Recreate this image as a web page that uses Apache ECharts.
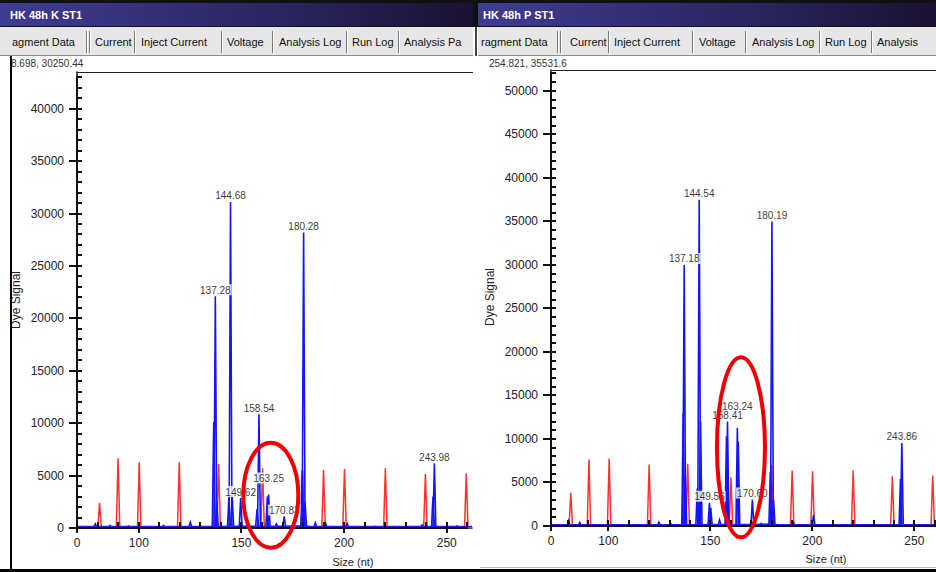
<!DOCTYPE html>
<html>
<head>
<meta charset="utf-8">
<script src="https://cdn.jsdelivr.net/npm/echarts@6/dist/echarts.min.js"></script>
<style>
  html, body { margin: 0; padding: 0; background: #fff; }
  #c { width: 936px; height: 572px; }
</style>
</head>
<body>
<div id="c"></div>
<script>
// ---------- HK 48h K ST1 ----------
// called (sized) blue peaks: [size nt, signal]
const kCalled = [[137.28, 22100], [144.68, 31100], [149.62, 2860], [158.54, 10850],
                 [163.25, 3200], [170.83, 1100], [180.28, 28200], [243.98, 6170]];
// uncalled blue peaks, shoulders and small bumps
const kBlueMinor = [[136.5, 10100], [138.0, 2500], [143.9, 3000], [145.5, 3000], [157.6, 1800],
                    [162.6, 3000], [179.6, 5500], [181.0, 2500], [243.3, 3000], [78.8, 400],
                    [86.0, 250], [95.0, 200], [112.0, 250], [125.1, 550], [130.0, 250],
                    [153.0, 500], [167.0, 400], [186.0, 500], [191.0, 450], [201.5, 430],
                    [215.0, 150], [230.0, 150], [238.0, 300], [255.0, 200]];
// size standard (red)
const kRed = [[80.9, 2400], [89.9, 6650], [100.2, 6270], [119.7, 6270], [138.9, 6100], [160.3, 5700],
              [179.8, 5500], [190.0, 5530], [200.2, 5630], [220.1, 5690], [239.6, 5150], [259.5, 5220]];
const kGreen = [[69.9, 60], [120, 80], [150, 200], [165, 180], [180, 250], [186, 90], [262.3, 60]];
const kBlueBase = [[69.9, 150], [262.3, 150]];
const kSignalTicks = [0, 5000, 10000, 15000, 20000, 25000, 30000, 35000, 40000];

// ---------- HK 48h P ST1 ----------
const pCalled = [[137.18, 30000], [144.54, 37500], [149.56, 2660], [158.41, 12000],
                 [163.24, 11250], [170.60, 3050], [180.19, 35000], [243.86, 9550]];
const pBlueMinor = [[136.7, 13000], [137.7, 6000], [143.6, 4300], [145.2, 12000], [150.2, 2100],
                    [157.9, 10300], [163.7, 9700], [179.4, 6200], [181.0, 3000], [243.2, 5400],
                    [80.5, 600], [86.0, 400], [124.8, 440], [130.5, 300], [154.5, 700],
                    [175.0, 300], [190.7, 400], [200.6, 1250]];
const pRed = [[81.6, 3810], [90.5, 7640], [100.4, 7720], [120.0, 7070], [138.9, 7150], [160.1, 5610],
              [180.0, 7000], [190.1, 6380], [200.1, 6300], [220.0, 6380], [239.2, 5720], [259.0, 5800]];
const pGreen = [[71.9, 60], [120, 80], [150, 200], [165, 200], [180, 280], [186, 90], [260.6, 60]];
const pBlueBase = [[71.9, 150], [260.6, 150]];
const pSignalTicks = [0, 5000, 10000, 15000, 20000, 25000, 30000, 35000, 40000, 45000, 50000];

// shared size axis
const sizeTicks = [100, 150, 200, 250];
const ladderMarks = [80, 90, 100, 110, 120, 130, 140, 150, 160, 170, 180, 190, 200, 210, 220, 230, 240, 250, 260];

// axis extents
const kRange = { xMin: 69.9, xMax: 262.3, yMax: 43500 };
const pRange = { xMin: 71.9, xMax: 260.6, yMax: 52400 };

const FONT = '"Liberation Sans", Arial, sans-serif';
const chart = echarts.init(document.getElementById('c'), null, { renderer: 'svg' });

function peakRenderer(base, half, width) {
  return function (params, api) {
    const s = api.value(0), h = api.value(1);
    const pts = [api.coord([s - half, base]), api.coord([s, h]), api.coord([s + half, base])];
    return {
      type: 'polyline',
      shape: { points: pts },
      style: { stroke: api.visual('color'), lineWidth: width, fill: 'none' }
    };
  };
}

function axesFor(grid, range, signalTicks) {
  return {
    x: {
      gridIndex: grid, type: 'value', position: 'bottom', min: range.xMin, max: range.xMax,
      axisLine: { show: true, onZero: false, lineStyle: { color: '#111', width: 1.5 } },
      axisTick: { show: false },
      axisLabel: {
        show: true, customValues: [range.xMin].concat(sizeTicks), showMinLabel: true, showMaxLabel: true,
        formatter: v => (v === range.xMin ? '0' : String(v)),
        fontFamily: FONT, fontSize: 12, color: '#222', margin: 9
      },
      splitLine: { show: false }
    },
    y: {
      gridIndex: grid, type: 'value', position: 'left', min: 0, max: range.yMax,
      axisLine: { show: true, onZero: false, lineStyle: { color: '#111', width: 1.5 } },
      axisTick: { show: false },
      axisLabel: {
        show: true, customValues: signalTicks, formatter: v => String(v),
        fontFamily: FONT, fontSize: 12, color: '#222', margin: 13
      },
      splitLine: { show: false }
    }
  };
}

function seriesFor(axisIdx, called, minor, red, green, base, lifts) {
  return [
    {
      type: 'line', xAxisIndex: axisIdx, yAxisIndex: axisIdx, data: green, showSymbol: false,
      lineStyle: { color: '#20a020', width: 1 }, z: 1, silent: true, animation: false
    },
    {
      type: 'custom', xAxisIndex: axisIdx, yAxisIndex: axisIdx, data: red, clip: true,
      renderItem: peakRenderer(0, 0.85, 1.5), itemStyle: { color: '#ff3030' }, z: 2, silent: true, animation: false
    },
    {
      type: 'line', xAxisIndex: axisIdx, yAxisIndex: axisIdx, data: base, showSymbol: false,
      lineStyle: { color: '#2020ff', width: 1.2 }, z: 3, silent: true, animation: false
    },
    {
      type: 'custom', xAxisIndex: axisIdx, yAxisIndex: axisIdx, data: called.concat(minor), clip: true,
      renderItem: peakRenderer(100, 0.7, 1.6), itemStyle: { color: '#1414ff' }, z: 3, silent: true, animation: false
    },
    {
      type: 'scatter', xAxisIndex: axisIdx, yAxisIndex: axisIdx, symbolSize: 0, z: 5, silent: true, animation: false,
      data: called.map(p => {
        const item = { value: p };
        if (lifts[p[0]]) item.label = { offset: [0, -lifts[p[0]]] };
        return item;
      }),
      label: {
        show: true, position: 'top', distance: 1,
        formatter: q => q.value[0].toFixed(2),
        fontFamily: FONT, fontSize: 10, color: '#000',
        backgroundColor: '#fff', padding: [1, 1, 0, 1]
      }
    }
  ];
}

const kAxes = axesFor(0, kRange, kSignalTicks);
const pAxes = axesFor(1, pRange, pSignalTicks);

chart.setOption({
  animation: false,
  backgroundColor: '#fff',
  grid: [
    { left: 77, top: 72, width: 395, height: 456 },
    { left: 551, top: 70, width: 385, height: 456 }
  ],
  xAxis: [kAxes.x, pAxes.x],
  yAxis: [kAxes.y, pAxes.y],
  series: seriesFor(0, kCalled, kBlueMinor, kRed, kGreen, kBlueBase, { 163.25: 10 })
    .concat(seriesFor(1, pCalled, pBlueMinor, pRed, pGreen, pBlueBase, { 163.24: 16 }))
});

const graphics = [];

// ---------- tick marks, each axis's ticks as one polyline placed through the grid's scales ----------
function addTicks(grid, range, signalTicks) {
  const finder = { gridIndex: grid };
  const px = v => Math.round(chart.convertToPixel(finder, [v, 0])[0]);
  const py = v => Math.round(chart.convertToPixel(finder, [range.xMin, v])[1]);
  const ax = px(range.xMin), ay = py(0);

  const yComb = [];
  for (let v = 0; v <= range.yMax; v += 1000) {
    const y = py(v);
    const major = signalTicks.indexOf(v) >= 0;
    yComb.push([ax, y], [major ? ax - 8 : ax, y], [ax + 5, y], [ax, y]);
  }
  const xComb = [];
  ladderMarks.forEach(v => { const x = px(v); xComb.push([x, ay], [x, ay - 6], [x, ay]); });
  const xOut = [];
  [range.xMin].concat(sizeTicks).forEach(v => { const x = px(v); xOut.push([x, ay], [x, ay + 5], [x, ay]); });

  [yComb, xComb, xOut].forEach(pts => graphics.push({
    type: 'polyline', z: 25, silent: true,
    shape: { points: pts },
    style: { stroke: '#111', lineWidth: 2, fill: null }
  }));
}
addTicks(0, kRange, kSignalTicks);
addTicks(1, pRange, pSignalTicks);

// ---------- window chrome ----------
function windowChrome(x0, x1, titleX, title, tabs, seps, status, plotLeft, plotTop) {
  const w = x1 - x0;
  const els = [];
  els.push({
    type: 'rect', shape: { x: x0, y: 3, width: w, height: 23 }, z: 20,
    style: { fill: new echarts.graphic.LinearGradient(0, 0, 1, 0, [
      { offset: 0, color: '#3f3c92' }, { offset: 0.6, color: '#2b2560' }, { offset: 1, color: '#1a1232' }
    ]) }
  });
  els.push({
    type: 'text', x: titleX, y: 15, z: 21,
    style: { text: title, fill: '#fff', font: 'bold 11px ' + FONT, verticalAlign: 'middle' }
  });
  els.push({ type: 'rect', shape: { x: x0, y: 27, width: w, height: 28 }, z: 20, style: { fill: '#e6e6e6' } });
  tabs.forEach(t => els.push({
    type: 'text', x: t[1], y: 41.5, z: 21,
    style: { text: t[0], fill: '#111', font: '11px ' + FONT, verticalAlign: 'middle' }
  }));
  seps.forEach(s => {
    els.push({ type: 'line', z: 21, shape: { x1: s + 0.5, y1: 31, x2: s + 0.5, y2: 53 }, style: { stroke: '#7a7a7a', lineWidth: 1 } });
    els.push({ type: 'line', z: 21, shape: { x1: s + 1.5, y1: 31, x2: s + 1.5, y2: 53 }, style: { stroke: '#ffffff', lineWidth: 1 } });
  });
  els.push({ type: 'line', z: 21, shape: { x1: x0, y1: 55.5, x2: x1, y2: 55.5 }, style: { stroke: '#8a8a8a', lineWidth: 1 } });
  els.push({
    type: 'text', x: x0 + 11, y: 63.5, z: 21,
    style: { text: status, fill: '#333', font: '10px ' + FONT, verticalAlign: 'middle' }
  });
  els.push({ type: 'line', z: 21, shape: { x1: plotLeft, y1: plotTop + 0.5, x2: x1, y2: plotTop + 0.5 }, style: { stroke: '#222', lineWidth: 1 } });
  return els;
}

graphics.push({ type: 'rect', shape: { x: 0, y: 0, width: 936, height: 27 }, z: 19, style: { fill: '#111' } });
graphics.push(...windowChrome(0, 473, 10, 'HK 48h K ST1',
  [['agment Data', 12], ['Current', 95], ['Inject Current', 141], ['Voltage', 227], ['Analysis Log', 279], ['Run Log', 352], ['Analysis Pa', 404]],
  [86, 89, 134, 221, 272, 346, 398], '8.698, 30250.44', 77, 72));
graphics.push(...windowChrome(478, 936, 483, 'HK 48h P ST1',
  [['ragment Data', 481], ['Current', 570], ['Inject Current', 614], ['Voltage', 699], ['Analysis Log', 752], ['Run Log', 825], ['Analysis', 877]],
  [557, 560, 608, 692, 745, 819, 871], '254.821, 35531.6', 551, 70));
graphics.push({ type: 'line', z: 22, shape: { x1: 476, y1: 27, x2: 476, y2: 56 }, style: { stroke: '#444', lineWidth: 2 } });

// outer frame of the left window
graphics.push({ type: 'line', z: 22, shape: { x1: 11, y1: 56, x2: 11, y2: 572 }, style: { stroke: '#000', lineWidth: 2 } });
graphics.push({ type: 'line', z: 22, shape: { x1: 0, y1: 570.5, x2: 936, y2: 570.5 }, style: { stroke: '#000', lineWidth: 3 } });
graphics.push({ type: 'line', z: 22, shape: { x1: 480, y1: 567.5, x2: 936, y2: 567.5 }, style: { stroke: '#bbb', lineWidth: 1 } });

// axis titles
graphics.push({ type: 'text', x: 353, y: 562, z: 21, style: { text: 'Size (nt)', fill: '#222', font: '11px ' + FONT, align: 'center', verticalAlign: 'middle' } });
graphics.push({ type: 'text', x: 826, y: 559, z: 21, style: { text: 'Size (nt)', fill: '#222', font: '11px ' + FONT, align: 'center', verticalAlign: 'middle' } });
graphics.push({ type: 'text', x: 16, y: 300, rotation: Math.PI / 2, z: 21, style: { text: 'Dye Signal', fill: '#222', font: '12px ' + FONT, align: 'center', verticalAlign: 'middle' } });
graphics.push({ type: 'text', x: 490, y: 297, rotation: Math.PI / 2, z: 21, style: { text: 'Dye Signal', fill: '#222', font: '12px ' + FONT, align: 'center', verticalAlign: 'middle' } });

// highlight rings around the 163 nt region, anchored in data space
const rings = [
  { grid: 0, center: [164.3, 3130], rx: 27.5, ry: 52.5 },
  { grid: 1, center: [165.0, 9045], rx: 24, ry: 90 }
];
rings.forEach(r => {
  const c = chart.convertToPixel({ gridIndex: r.grid }, r.center);
  graphics.push({
    type: 'ellipse', z: 30,
    shape: { cx: c[0], cy: c[1], rx: r.rx, ry: r.ry },
    style: { fill: 'none', stroke: '#ee0000', lineWidth: 4 }
  });
});

chart.setOption({ graphic: graphics });
</script>
</body>
</html>
